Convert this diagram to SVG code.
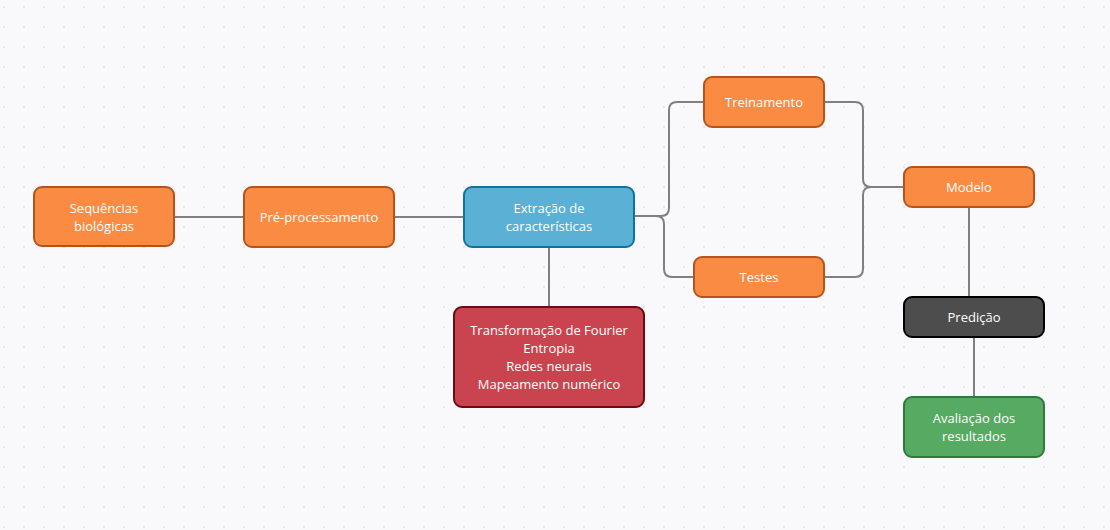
<svg xmlns="http://www.w3.org/2000/svg" width="1110" height="530" viewBox="0 0 1110 530">
<defs>
<pattern id="dots" x="0" y="0" width="20" height="20" patternUnits="userSpaceOnUse">
<circle cx="4" cy="7" r="1" fill="#e2e2e6"/>
</pattern>
<style>
.n rect{stroke-width:2}
.or rect{fill:#fa8b43;stroke:#b4541b}
.bl rect{fill:#5bb0d6;stroke:#10739e}
.rd rect{fill:#ca444f;stroke:#6b0b14}
.dk rect{fill:#4d4d4d;stroke:#000}
.gr rect{fill:#56aa62;stroke:#2e7a39}
.n text{font-family:"Open Sans","Noto Sans",sans-serif;font-size:13px;fill:#fff;text-anchor:middle}
.c path{fill:none;stroke:#808080;stroke-width:2}
</style>
</defs>
<rect width="1110" height="530" fill="#f9f9fb"/>
<rect width="1110" height="530" fill="url(#dots)"/>
<g id="connectors" class="c">
<path d="M174,217 H244"/>
<path d="M394,217 H464"/>
<path d="M549,247 V307"/>
<path d="M634,216 H661 Q669,216 669,208 V110 Q669,102 677,102 H704"/>
<path d="M634,216 H656 Q664,216 664,224 V269 Q664,277 672,277 H694"/>
<path d="M824,102 H855 Q863,102 863,110 V179 Q863,187 871,187 H904"/>
<path d="M824,277 H855 Q863,277 863,269 V195 Q863,187 871,187 H904"/>
<path d="M969,207 V297"/>
<path d="M974,337 V397"/>
</g>
<g id="seq" class="n or"><rect x="34" y="187" width="140" height="59" rx="8"/><text x="104" y="213">Sequências</text><text x="104" y="231">biológicas</text></g>
<g id="pre" class="n or"><rect x="244" y="187" width="150" height="60" rx="8"/><text x="319" y="222">Pré-processamento</text></g>
<g id="ext" class="n bl"><rect x="464" y="187" width="170" height="60" rx="8"/><text x="549" y="213">Extração de</text><text x="549" y="231">características</text></g>
<g id="met" class="n rd"><rect x="454" y="307" width="190" height="100" rx="8"/><text x="549" y="335">Transformação de Fourier</text><text x="549" y="353">Entropia</text><text x="549" y="371">Redes neurais</text><text x="549" y="389">Mapeamento numérico</text></g>
<g id="tre" class="n or"><rect x="704" y="77" width="120" height="50" rx="8"/><text x="764" y="107">Treinamento</text></g>
<g id="tes" class="n or"><rect x="694" y="257" width="130" height="40" rx="8"/><text x="759" y="282">Testes</text></g>
<g id="mod" class="n or"><rect x="904" y="167" width="130" height="40" rx="8"/><text x="969" y="192">Modelo</text></g>
<g id="pred" class="n dk"><rect x="904" y="297" width="140" height="40" rx="8"/><text x="974" y="322">Predição</text></g>
<g id="ava" class="n gr"><rect x="904" y="397" width="140" height="60" rx="8"/><text x="974" y="423">Avaliação dos</text><text x="974" y="441">resultados</text></g>
</svg>
